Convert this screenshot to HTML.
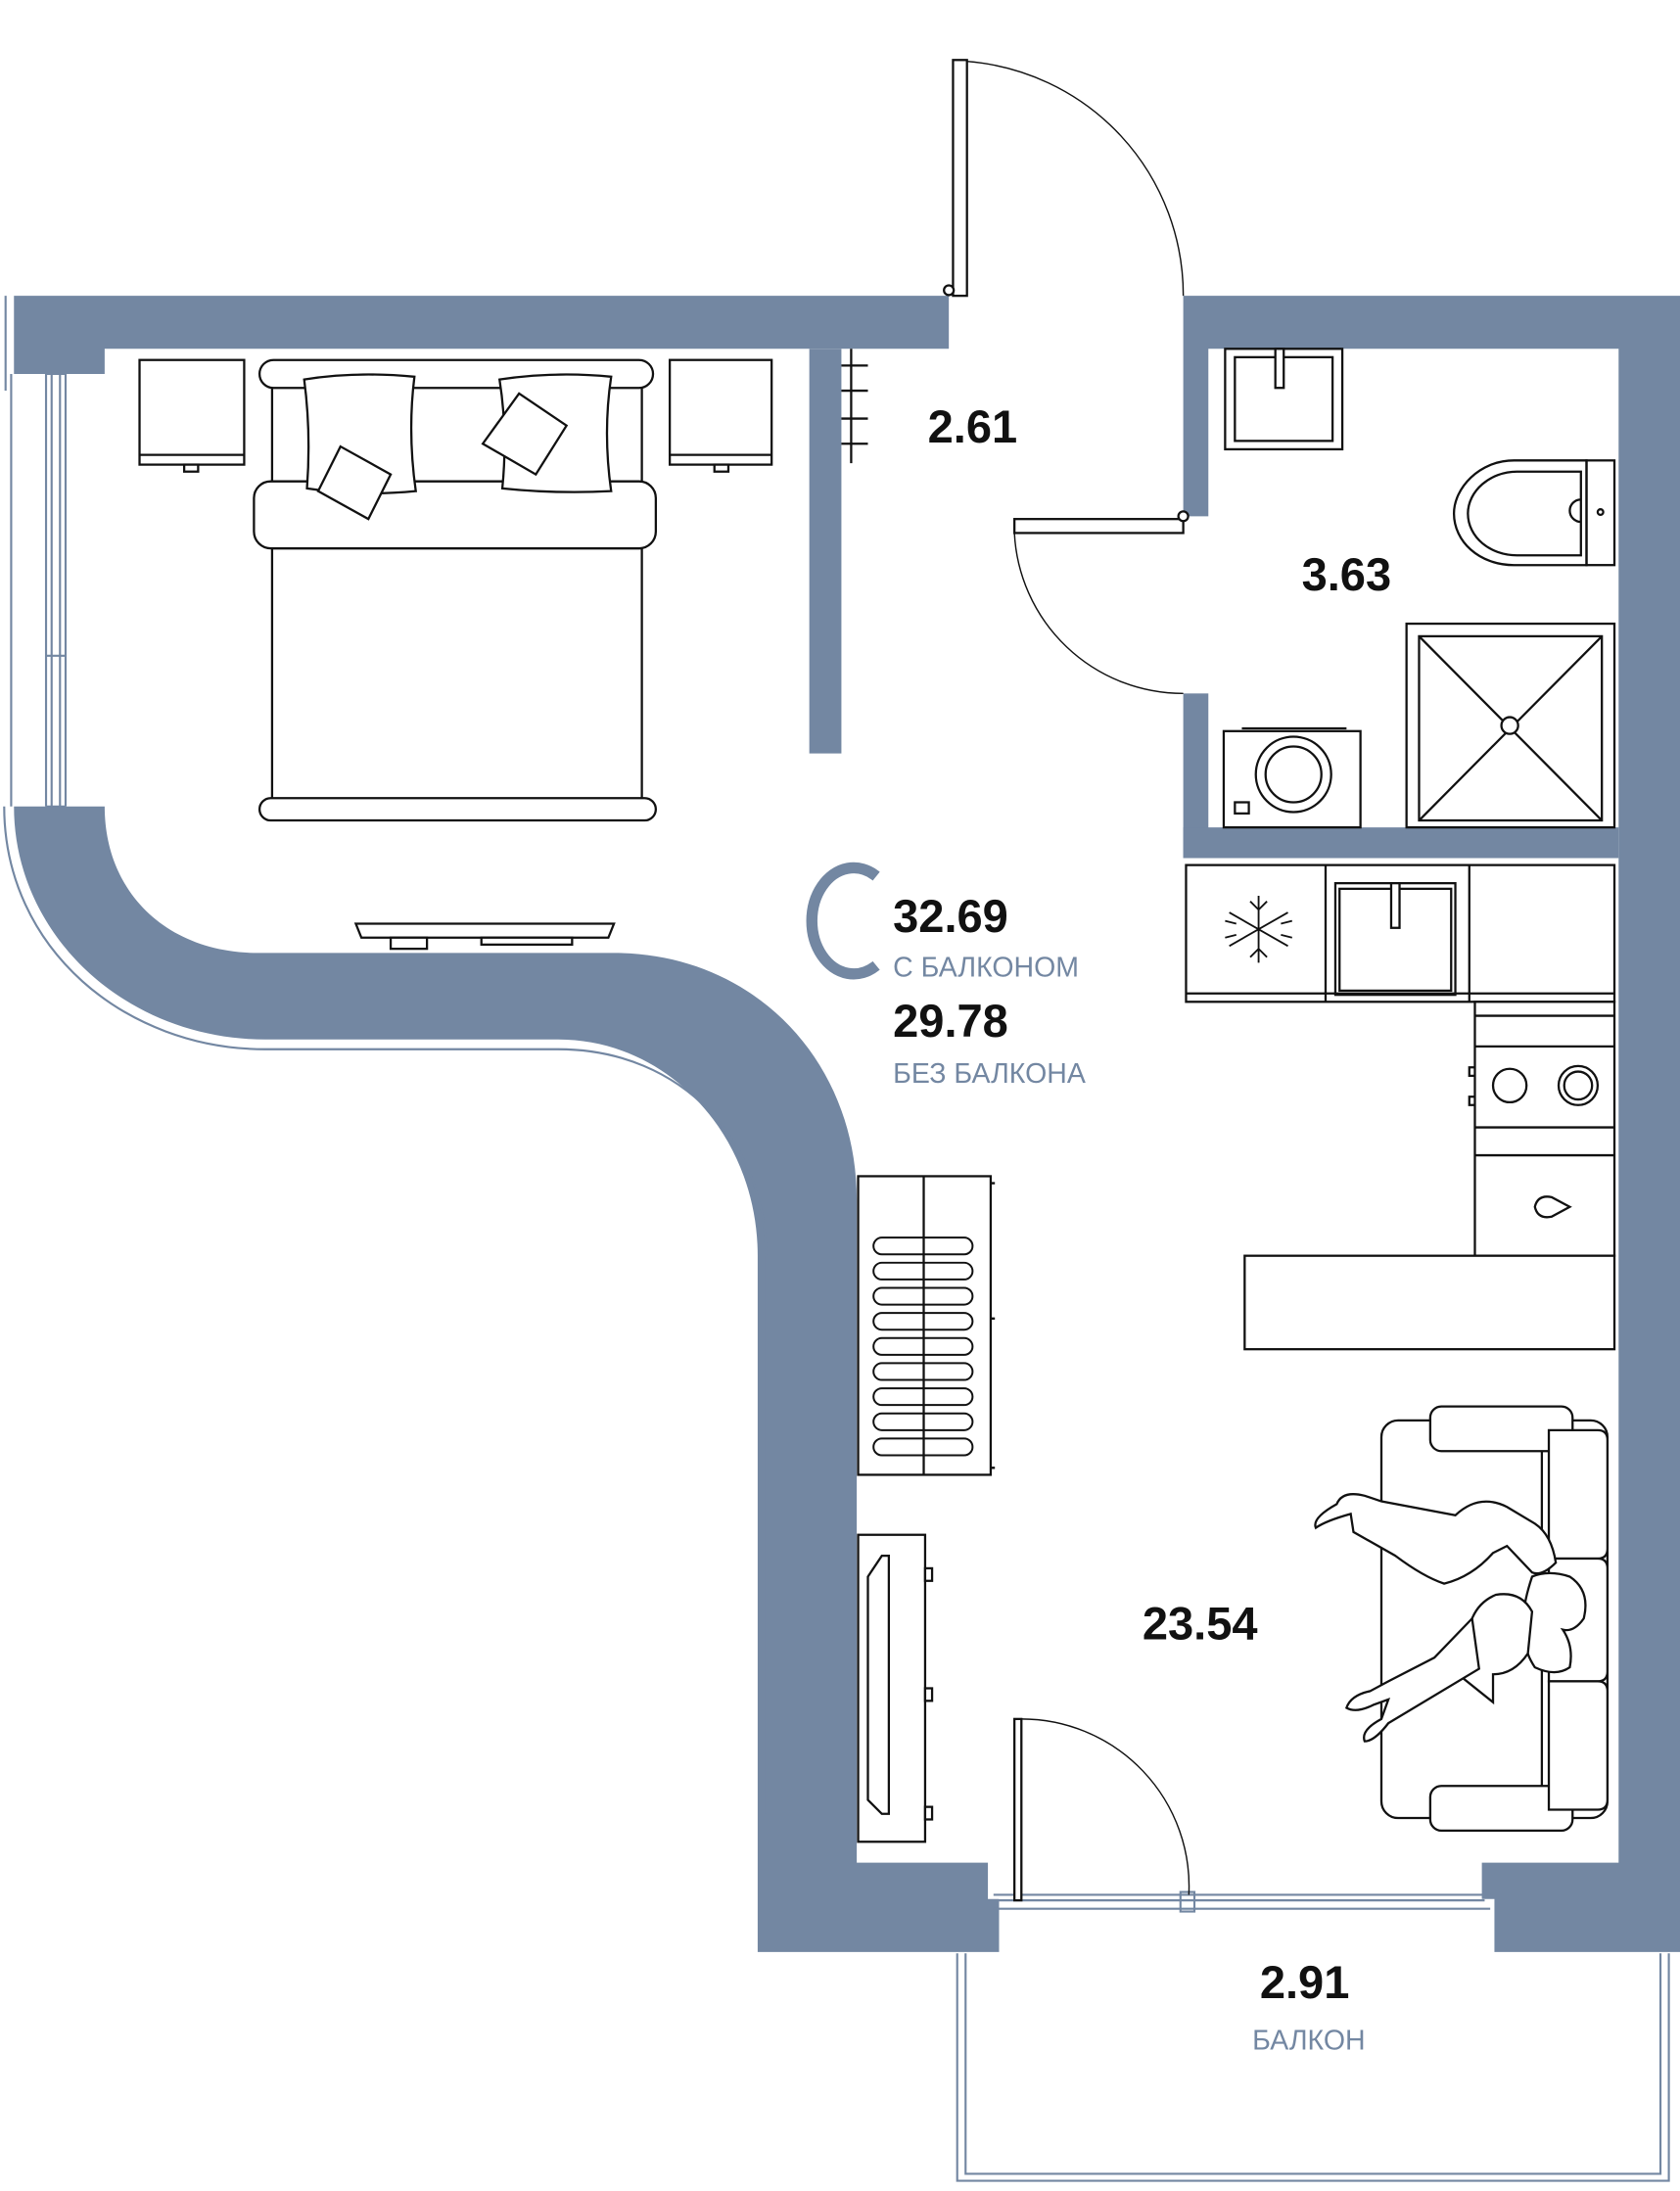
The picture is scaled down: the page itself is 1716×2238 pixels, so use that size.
<!DOCTYPE html>
<html><head><meta charset="utf-8"><style>
html,body{margin:0;padding:0;background:#fff;overflow:hidden;}
svg{display:block;}
.w{fill:#7387a2;}
.l{fill:none;stroke:#111;stroke-width:1.6;}
.f{fill:#fff;stroke:#111;stroke-width:1.6;}
.t{fill:none;stroke:#7387a2;stroke-width:1.5;}
.num{font-family:"Liberation Sans",sans-serif;font-weight:bold;font-size:33px;fill:#111;}
.lab{font-family:"Liberation Sans","Noto Sans CJK SC",sans-serif;font-size:20px;fill:#7387a2;}
</style></head><body>
<svg width="1716" height="2238" viewBox="0 0 1204 1570.3" preserveAspectRatio="none" xmlns="http://www.w3.org/2000/svg">
<!-- walls -->
<path class="w" d="M10 212 H680 V250 H75 V268 H10 Z"/>
<rect class="w" x="580" y="250" width="23" height="290"/>
<path class="w" d="M848 212 H1204 V1399 H1071 V1361 H1062 V1335 H1160 V250 H866 V370 H848 Z"/>
<rect class="w" x="848" y="497" width="18" height="118"/>
<rect class="w" x="848" y="593" width="312" height="22"/>
<path class="w" d="M10 578 L75 578 C75 640 120 683 185 683 L440 683 C540 683 614 760 614 860 L614 1335 L708 1335 L708 1361 L716 1361 L716 1399 L543 1399 L543 900 C543 815 480 745 400 745 L190 745 C90 745 10 670 10 578 Z"/>
<!-- outer thin lines -->
<path class="t" d="M4 212 V280 M3 578 C3 680 90 752 190 752 L400 752 C490 752 549 820 549 900 V1300"/>
<path class="t" d="M8 578 V268 M33 268 V578 M37 268 V578 M47 268 V578 M43 268 V578 M33 268 H47 M33 578 H47 M33 470 H47"/>
<!-- balcony -->
<path class="t" d="M686 1400 V1563 H1196 V1400 M692 1400 V1558 H1190 V1400"/>
<path class="t" d="M712 1358 H1068 M712 1368 H1068 M716 1362 H1064"/>
<rect class="t" x="846" y="1356" width="10" height="14"/>
<!-- doors -->
<rect class="f" x="683" y="43" width="10" height="169"/>
<path class="l" style="stroke-width:1" d="M693 44 A168 168 0 0 1 848 212"/>
<circle class="f" cx="680" cy="208" r="3.5"/>
<rect class="f" x="727" y="372" width="121" height="10"/>
<path class="l" style="stroke-width:1" d="M727 382 A121 121 0 0 0 848 497"/>
<circle class="f" cx="848" cy="370" r="3.5"/>
<rect class="f" x="727" y="1232" width="5" height="130"/>
<path class="l" style="stroke-width:1" d="M732 1232 A120 120 0 0 1 852 1358"/>
<!-- bedroom -->
<rect class="f" x="100" y="258" width="75" height="75"/><line class="l" x1="100" y1="326" x2="175" y2="326"/><rect class="f" x="132" y="333" width="10" height="5"/>
<rect class="f" x="480" y="258" width="73" height="75"/><line class="l" x1="480" y1="326" x2="553" y2="326"/><rect class="f" x="512" y="333" width="10" height="5"/>
<rect class="f" x="186" y="258" width="282" height="20" rx="10"/>
<path class="l" d="M195 278 V345 M460 278 V345"/>
<rect class="f" x="195" y="393" width="265" height="180"/>
<rect class="f" x="182" y="345" width="288" height="48" rx="12"/>
<rect class="f" x="186" y="572" width="284" height="16" rx="8"/>
<path class="f" d="M218 272 Q255 266 297 270 Q292 310 298 352 Q258 356 220 350 Q223 310 218 272 Z"/>
<path class="f" d="M358 272 Q398 266 438 270 Q432 310 438 352 Q398 354 360 350 Q364 310 358 272 Z"/>
<path class="f" d="M244 320 L280 340 L264 372 L228 352 Z"/>
<path class="f" d="M372 282 L406 305 L384 340 L346 318 Z"/>
<path class="l" d="M603 262 H622 M603 280 H622 M603 300 H622 M603 318 H622 M610 250 V332"/>
<path class="f" d="M255 662 H440 L436 672 H259 Z"/>
<rect class="f" x="280" y="672" width="26" height="8"/><rect class="f" x="345" y="672" width="65" height="5"/>
<!-- bathroom -->
<rect class="f" x="878" y="250" width="84" height="72"/><rect class="l" x="885" y="256" width="70" height="60"/><rect class="f" x="914" y="250" width="6" height="28"/>
<path class="f" d="M1137 330 H1085 C1060 330 1042 350 1042 368 C1042 388 1060 405 1085 405 H1137 Z"/>
<path class="l" d="M1133 338 H1087 C1068 338 1052 352 1052 368 C1052 385 1068 398 1087 398 H1133 Z"/>
<rect class="l" x="1137" y="330" width="20" height="75"/>
<path class="l" d="M1133 358 A8 8 0 0 0 1133 374"/><circle class="l" cx="1147" cy="367" r="2"/>
<rect class="f" x="1008" y="447" width="149" height="146"/><rect class="l" x="1017" y="456" width="131" height="132"/>
<path class="l" d="M1017 456 L1148 588 M1148 456 L1017 588"/><circle class="f" cx="1082" cy="520" r="6"/>
<rect class="f" x="877" y="524" width="98" height="69"/><path class="l" d="M890 522 H965"/>
<circle class="l" cx="927" cy="555" r="27"/><circle class="l" cx="927" cy="555" r="20"/>
<rect class="l" x="885" y="575" width="10" height="8"/>
<!-- kitchen -->
<rect class="f" x="850" y="620" width="307" height="98"/>
<path class="l" d="M850 712 H1157 M950 620 V718 M1053 620 V718"/>
<rect class="l" x="957" y="633" width="86" height="80"/><rect class="l" x="960" y="637" width="80" height="73"/>
<rect class="f" x="997" y="633" width="6" height="32"/>
<g class="l" style="stroke-width:1.3"><path d="M902 642 V690 M881 654 L923 678 M881 678 L923 654 M896 646 L902 652 L908 646 M896 686 L902 680 L908 686 M878 660 L886 662 M878 672 L886 670 M926 660 L918 662 M926 672 L918 670"/></g>
<rect class="f" x="1057" y="718" width="100" height="182"/>
<path class="l" d="M1057 728 H1157 M1057 750 H1157 M1057 808 H1157 M1057 828 H1157"/>
<circle class="l" cx="1082" cy="778" r="12"/><circle class="l" cx="1131" cy="778" r="14"/><circle class="l" cx="1131" cy="778" r="10"/>
<path class="l" d="M1057 765 H1053 V771 H1057 M1057 786 H1053 V792 H1057"/>
<path class="l" d="M1100 865 Q1102 856 1112 858 L1125 865 L1112 872 Q1102 874 1100 865 Z"/>
<rect class="f" x="892" y="900" width="265" height="67"/>
<!-- wardrobe -->
<rect class="f" x="615" y="843" width="95" height="214"/><line class="l" x1="662" y1="843" x2="662" y2="1057"/>
<path class="l" d="M710 848 H713 M710 1052 H713 M710 945 H713"/>
<g class="l" style="stroke-width:1.4">
<rect x="626" y="887" width="71" height="12" rx="6"/><rect x="626" y="905" width="71" height="12" rx="6"/><rect x="626" y="923" width="71" height="12" rx="6"/><rect x="626" y="941" width="71" height="12" rx="6"/><rect x="626" y="959" width="71" height="12" rx="6"/><rect x="626" y="977" width="71" height="12" rx="6"/><rect x="626" y="995" width="71" height="12" rx="6"/><rect x="626" y="1013" width="71" height="12" rx="6"/><rect x="626" y="1031" width="71" height="12" rx="6"/>
</g>
<!-- tv unit -->
<rect class="f" x="615" y="1100" width="48" height="220"/>
<path class="f" d="M622 1130 L632 1115 H637 V1300 H632 L622 1290 Z"/>
<rect class="f" x="663" y="1124" width="5" height="9"/><rect class="f" x="663" y="1210" width="5" height="9"/><rect class="f" x="663" y="1295" width="5" height="9"/>
<!-- sofa -->
<rect class="f" x="990" y="1018" width="162" height="285" rx="12"/>
<rect class="f" x="1025" y="1008" width="102" height="32" rx="8"/>
<rect class="f" x="1025" y="1280" width="102" height="32" rx="8"/>
<path class="l" d="M1105 1040 V1280 M1120 1025 V1297"/>
<path class="f" d="M1110 1025 H1145 Q1152 1025 1152 1032 V1110 Q1152 1117 1145 1117 H1110 Z"/>
<path class="f" d="M1110 1117 H1145 Q1152 1117 1152 1124 V1198 Q1152 1205 1145 1205 H1110 Z"/>
<path class="f" d="M1110 1205 H1145 Q1152 1205 1152 1212 V1290 Q1152 1297 1145 1297 H1110 Z"/>
<g class="l" style="stroke-width:1.3">
<path class="f" d="M958 1078 Q962 1068 978 1072 L990 1076 L1043 1086 Q1060 1070 1080 1080 L1100 1092 Q1112 1100 1115 1120 Q1105 1130 1098 1127 L1080 1108 L1070 1113 Q1055 1130 1035 1135 Q1020 1130 1000 1115 L970 1098 L968 1085 Q950 1090 943 1095 Q940 1088 958 1078 Z"/>
<path class="f" d="M1098 1130 Q1110 1125 1125 1130 Q1140 1140 1135 1160 Q1128 1170 1120 1168 Q1128 1180 1125 1195 Q1115 1202 1100 1195 Q1090 1180 1095 1168 Q1088 1160 1098 1130 Z"/>
<path class="f" d="M1072 1143 Q1090 1140 1098 1155 L1095 1185 Q1085 1200 1070 1200 L1070 1220 L1040 1196 L1055 1160 Q1060 1148 1072 1143 Z"/>
<path class="f" d="M1055 1160 L1028 1188 L995 1205 L982 1212 Q968 1215 965 1224 Q972 1228 984 1222 L995 1218 L990 1232 Q975 1240 978 1248 Q985 1248 995 1235 L1060 1196 Z"/>
</g>
<!-- C logo -->
<path d="M628 628 A30 38 0 1 0 628 692" fill="none" stroke="#7387a2" stroke-width="8"/>
<!-- text -->
<text class="num" x="697" y="317" text-anchor="middle">2.61</text>
<text class="num" x="965" y="423" text-anchor="middle">3.63</text>
<text class="num" x="640" y="668">32.69</text>
<text class="lab" x="640" y="700">С БАЛКОНОМ</text>
<text class="num" x="640" y="743">29.78</text>
<text class="lab" x="640" y="776">БЕЗ БАЛКОНА</text>
<text class="num" x="860" y="1175" text-anchor="middle">23.54</text>
<text class="num" x="935" y="1432" text-anchor="middle">2.91</text>
<text class="lab" x="938" y="1469" text-anchor="middle">БАЛКОН</text>
</svg>
</body></html>
